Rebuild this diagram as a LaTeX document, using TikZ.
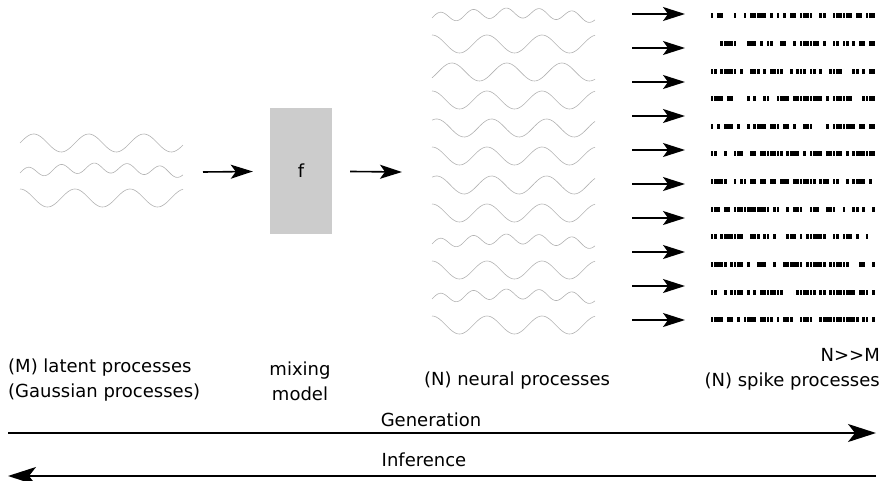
\documentclass[tikz,border=0pt]{standalone}
\usepackage{fontspec}
\setmainfont{DejaVu Sans}
\usetikzlibrary{arrows.meta}

\tikzset{
  wave/.style={draw=black!30, line width=0.6pt},
  arr/.style={draw, line width=1.6pt, -{Stealth[length=22pt, width=14pt, inset=5pt]}},
  bigarr/.style={draw, line width=1.6pt, -{Stealth[length=28pt, width=18pt, inset=7pt]}},
  lbl/.style={inner sep=0pt, font=\fontsize{18}{25}\selectfont, align=center}
}

% plain wave and beating wave, both 163 long
\newcommand{\plainwave}[3]{%
  \draw[wave] plot[domain=0:163, samples=90, smooth] ({#1+\x}, {#2-9*sin(6.545*\x+#3)});}
\newcommand{\beatwave}[3]{%
  \draw[wave] plot[domain=0:163, samples=90, smooth] ({#1+\x}, {#2-5*sin(10.91*\x+#3)-5*sin(1.104*\x)+2});}

\begin{document}
\begin{tikzpicture}[x=1pt, y=-1pt]
        \useasboundingbox (0,0) rectangle (882,481);

        % latent processes
        \plainwave{20}{143}{0}
        \beatwave{20}{171}{0}
        \plainwave{20}{198}{90}

        % neural processes
        \beatwave{432}{16}{0}
        \plainwave{432}{44}{90}
        \plainwave{432}{72}{-40}
        \plainwave{432}{100}{90}
        \plainwave{432}{128}{60}
        \plainwave{432}{156}{90}
        \plainwave{432}{185}{60}
        \plainwave{432}{213}{90}
        \beatwave{432}{242}{0}
        \plainwave{432}{270}{90}
        \beatwave{432}{297}{0}
        \plainwave{432}{325}{90}

        % spike trains
        \pgfmathsetseed{41}
        \foreach \r in {0,...,11} {
          \foreach \s in {0,...,49} {
            \pgfmathrandominteger{\k}{0}{9}
            \ifnum\k<7
              \fill ({710.5+3.3*\s}, {13.5+27.6*\r}) rectangle ++(2.8,5);
            \fi
          }
        }

        \begin{scope}[every node/.style={lbl}]
          \node[fill=black!20, minimum width=62pt, minimum height=126pt] (f) at (301,171) {f};
          \node[anchor=west, align=left] (lat) at (8,380) {(M) latent processes\\(Gaussian processes)};
          \node (mix) at (300,381) {mixing\\model};
          \node (neu) at (517,381) {(N) neural processes};
          \node[anchor=east, align=right] (spk) at (880,369) {N>{}>M\\(N) spike processes};
          \node (gen) at (431,420) {Generation};
          \node (inf) at (424,460) {Inference};
        \end{scope}

        \coordinate (la) at (203,172);
        \coordinate (nb) at (402,172);
        \coordinate (gl) at (8,433);
        \coordinate (gr) at (876,433);
        \coordinate (il) at (8,476);
        \coordinate (ir) at (876,476);

        \path (la) edge[arr, shorten >=17pt] (f);
        \path (f) edge[arr, shorten <=18pt] (nb);
        \foreach \i in {0,...,9} {
          \coordinate (s\i) at (632,{14+34*\i});
          \coordinate (t\i) at (685,{14+34*\i});
          \path (s\i) edge[arr] (t\i);
        }

        \path (gl) edge[bigarr] (gr);
        \path (ir) edge[bigarr] (il);

      \end{tikzpicture}
\end{document}
